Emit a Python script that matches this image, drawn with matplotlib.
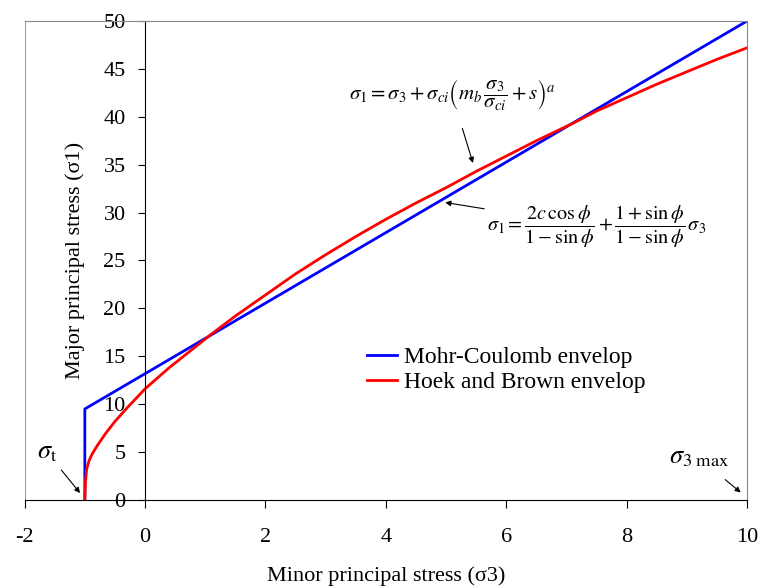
import matplotlib
matplotlib.use('Agg')
from matplotlib import pyplot as plt

plt.rcParams['font.family'] = ['Liberation Serif', 'DejaVu Serif']
plt.rcParams['mathtext.fontset'] = 'stix'
plt.rcParams['axes.unicode_minus'] = False

# Mohr-Coulomb envelope (straight line with tension cut-off at sigma_t)
mc_x = [-1.0, -1.0, 10.0]
mc_y = [0.0, 9.5, 50.0]

# Hoek and Brown envelope
hb_x = [-1.0, -0.99, -0.97, -0.93, -0.87, -0.78, -0.66, -0.5, -0.3, 0.0,
        0.4, 0.8, 1.1, 1.5, 2.0, 2.5, 3.0, 3.5, 4.0, 4.5, 5.0, 5.5, 6.0,
        6.5, 7.1, 7.5, 8.0, 8.5, 9.0, 9.5, 10.0]
hb_y = [0.0, 1.8, 3.2, 4.1, 4.9, 5.8, 6.9, 8.2, 9.6, 11.6,
        13.8, 15.8, 17.3, 19.2, 21.4, 23.6, 25.6, 27.5, 29.3, 31.0, 32.6, 34.3, 35.9,
        37.5, 39.3, 40.6, 42.0, 43.4, 44.7, 46.0, 47.2]

x_ticks = [-2, 0, 2, 4, 6, 8, 10]
y_ticks = [0, 5, 10, 15, 20, 25, 30, 35, 40, 45, 50]

fig = plt.figure(figsize=(7.6, 5.88), dpi=100)
ax = fig.add_axes([0.0324, 0.1497, 0.9506, 0.8146])

ax.plot(mc_x, mc_y, color='#0000ff', linewidth=2, label='Mohr-Coulomb envelop')
ax.plot(hb_x, hb_y, color='#ff0000', linewidth=2, label='Hoek and Brown envelop')

ax.set_xlim(-2, 10)
ax.set_ylim(0, 50)

# y axis crosses at x = 0, plot-area border in gray
ax.spines['left'].set_position(('data', 0))
ax.spines['left'].set_color('black')
ax.spines['bottom'].set_color('black')
for side in ['top', 'right']:
    ax.spines[side].set_color('#888888')
ax.axvline(-2, color='#888888', linewidth=1.2, zorder=0)

ax.set_xticks(x_ticks)
ax.set_yticks(y_ticks)
ax.tick_params(axis='x', direction='out', length=6, pad=14, labelsize=16)
ax.tick_params(axis='y', direction='out', length=5, pad=9, labelsize=16)

ax.set_xlabel('Minor principal stress (σ3)', fontsize=16, labelpad=14)
ax.text(0.07, 0.5, 'Major principal stress (σ1)', transform=ax.transAxes,
        rotation=90, ha='center', va='center', fontsize=16)

leg = ax.legend(loc='upper left', bbox_to_anchor=(0.444, 0.365), frameon=False,
                fontsize=17, handlelength=1.3, handletextpad=0.3,
                labelspacing=0.15)

# formula annotations
ax.annotate(r'$\sigma_1 = \sigma_3 + \sigma_{ci}\left(m_b\,\dfrac{\sigma_3}{\sigma_{ci}} + s\right)^a$',
            xy=(5.46, 34.9), xytext=(5.1, 42.3), ha='center', va='center',
            fontsize=15,
            arrowprops=dict(arrowstyle='-|>', color='black', lw=0.8,
                            mutation_scale=8, shrinkA=10))
ax.annotate(r'$\sigma_1 = \dfrac{2c\,\cos\phi}{1-\sin\phi} + \dfrac{1+\sin\phi}{1-\sin\phi}\,\sigma_3$',
            xy=(4.94, 31.1), xytext=(7.5, 28.5), ha='center', va='center',
            fontsize=14.5,
            arrowprops=dict(arrowstyle='-|>', color='black', lw=0.8,
                            mutation_scale=8, shrinkA=62))

ax.annotate(r'$\sigma_{\rm t}$', xy=(-1.05, 0.5), xytext=(-1.62, 4.9),
            ha='center', va='center', fontsize=19,
            arrowprops=dict(arrowstyle='-|>', color='black', lw=0.8,
                            mutation_scale=8, shrinkA=3))
ax.annotate(r'$\sigma_{\rm 3\ max}$', xy=(9.93, 0.6), xytext=(9.2, 4.4),
            ha='center', va='center', fontsize=19,
            arrowprops=dict(arrowstyle='-|>', color='black', lw=0.8,
                            mutation_scale=8, shrinkA=9))

fig.savefig('out.png', dpi=100)
